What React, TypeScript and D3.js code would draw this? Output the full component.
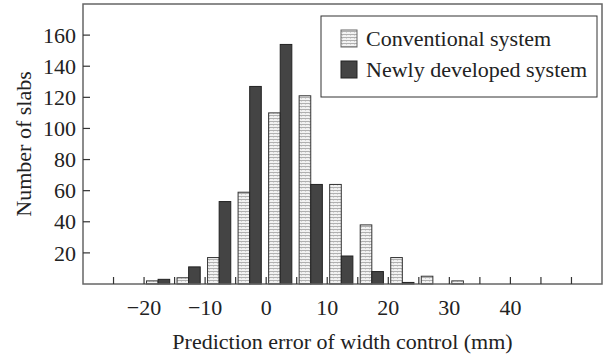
import * as d3 from "d3";

// bin start of each 5 mm class
const binStarts = [-20, -15, -10, -5, 0, 5, 10, 15, 20, 25, 30];
const conventional = [2, 4, 17, 59, 110, 121, 64, 38, 17, 5, 2];
const newlyDeveloped = [3, 11, 53, 127, 154, 64, 18, 8, 1, 0, 0];
const seriesNames = ["Conventional system", "Newly developed system"];
const yTicks = [20, 40, 60, 80, 100, 120, 140, 160];
const xMinorTicks = d3.range(-25, 55, 5);
const xLabelTicks = [-20, -10, 0, 10, 20, 30, 40];

const width = 607;
const height = 358;
const margin = { top: 4, right: 5, bottom: 74, left: 83 };
const font = "'Liberation Serif', 'Times New Roman', serif";
const fs = 22;

export default function App() {
  const x = d3
    .scaleLinear()
    .domain([-30, 55])
    .range([margin.left, width - margin.right]);
  const y = d3
    .scaleLinear()
    .domain([0, 180])
    .range([height - margin.bottom, margin.top]);

  // two bars inside each 5 mm bin
  const binPx = x(5) - x(0);
  const inner = d3
    .scaleBand()
    .domain(["conv", "new"])
    .range([binPx * 0.08, binPx * 0.84]);

  const y0 = y(0);
  const tickLen = 7;

  return (
    <svg
      width={width}
      height={height}
      style={{ position: "absolute", left: 0, top: 0, background: "#fff" }}
      fontFamily={font}
    >
      <defs>
        <pattern id="hatch" width="4" height="3" patternUnits="userSpaceOnUse">
          <rect width="4" height="3" fill="#f2f2f2" />
          <rect y="1" width="4" height="1" fill="#b0b0b0" />
          <rect x="1" y="2" width="1" height="1" fill="#d4d4d4" />
        </pattern>
      </defs>

      {/* bars */}
      {binStarts.map((b, i) => (
        <g key={b}>
          {conventional[i] > 0 && (
            <rect
              x={x(b) + (inner("conv") || 0)}
              y={y(conventional[i])}
              width={inner.bandwidth()}
              height={y0 - y(conventional[i])}
              fill="url(#hatch)"
              stroke="#333"
              strokeWidth={1}
            />
          )}
          {newlyDeveloped[i] > 0 && (
            <rect
              x={x(b) + (inner("new") || 0)}
              y={y(newlyDeveloped[i])}
              width={inner.bandwidth()}
              height={y0 - y(newlyDeveloped[i])}
              fill="#444"
              stroke="#222"
              strokeWidth={1}
            />
          )}
        </g>
      ))}

      {/* frame */}
      <rect
        x={margin.left}
        y={margin.top}
        width={width - margin.left - margin.right}
        height={y0 - margin.top}
        fill="none"
        stroke="#666"
        strokeWidth={1.5}
      />

      {/* y ticks */}
      {yTicks.map((t) => (
        <g key={t}>
          <line
            x1={margin.left}
            x2={margin.left + tickLen}
            y1={y(t)}
            y2={y(t)}
            stroke="#333"
            strokeWidth={1.2}
          />
          <text
            x={margin.left - 7}
            y={y(t)}
            dy="0.35em"
            textAnchor="end"
            fontSize={fs}
            fill="#222"
          >
            {t}
          </text>
        </g>
      ))}

      {/* x ticks */}
      {xMinorTicks.map((t) => (
        <line
          key={t}
          x1={x(t)}
          x2={x(t)}
          y1={y0}
          y2={y0 - tickLen}
          stroke="#333"
          strokeWidth={1.2}
        />
      ))}
      {xLabelTicks.map((t) => (
        <text
          key={t}
          x={x(t)}
          y={315}
          textAnchor="middle"
          fontSize={fs}
          fill="#222"
        >
          {t < 0 ? `\u2212${Math.abs(t)}` : t}
        </text>
      ))}

      {/* axis titles */}
      <text
        x={(margin.left + width - margin.right) / 2}
        y={349}
        textAnchor="middle"
        fontSize={fs}
        fill="#222"
      >
        Prediction error of width control (mm)
      </text>
      <text
        transform={`translate(31, ${(margin.top + y0) / 2}) rotate(-90)`}
        textAnchor="middle"
        fontSize={fs}
        fill="#222"
      >
        Number of slabs
      </text>

      {/* legend */}
      <rect
        x={321}
        y={16}
        width={276}
        height={81}
        fill="#fff"
        stroke="#333"
        strokeWidth={1}
      />
      {seriesNames.map((name, i) => (
        <g key={name} transform={`translate(341, ${30 + i * 31})`}>
          <rect
            width={16}
            height={17}
            fill={i === 0 ? "url(#hatch)" : "#444"}
            stroke={i === 0 ? "#666" : "#222"}
            strokeWidth={1}
          />
          <text x={25} y={16} fontSize={fs} fill="#222">
            {name}
          </text>
        </g>
      ))}
    </svg>
  );
}
